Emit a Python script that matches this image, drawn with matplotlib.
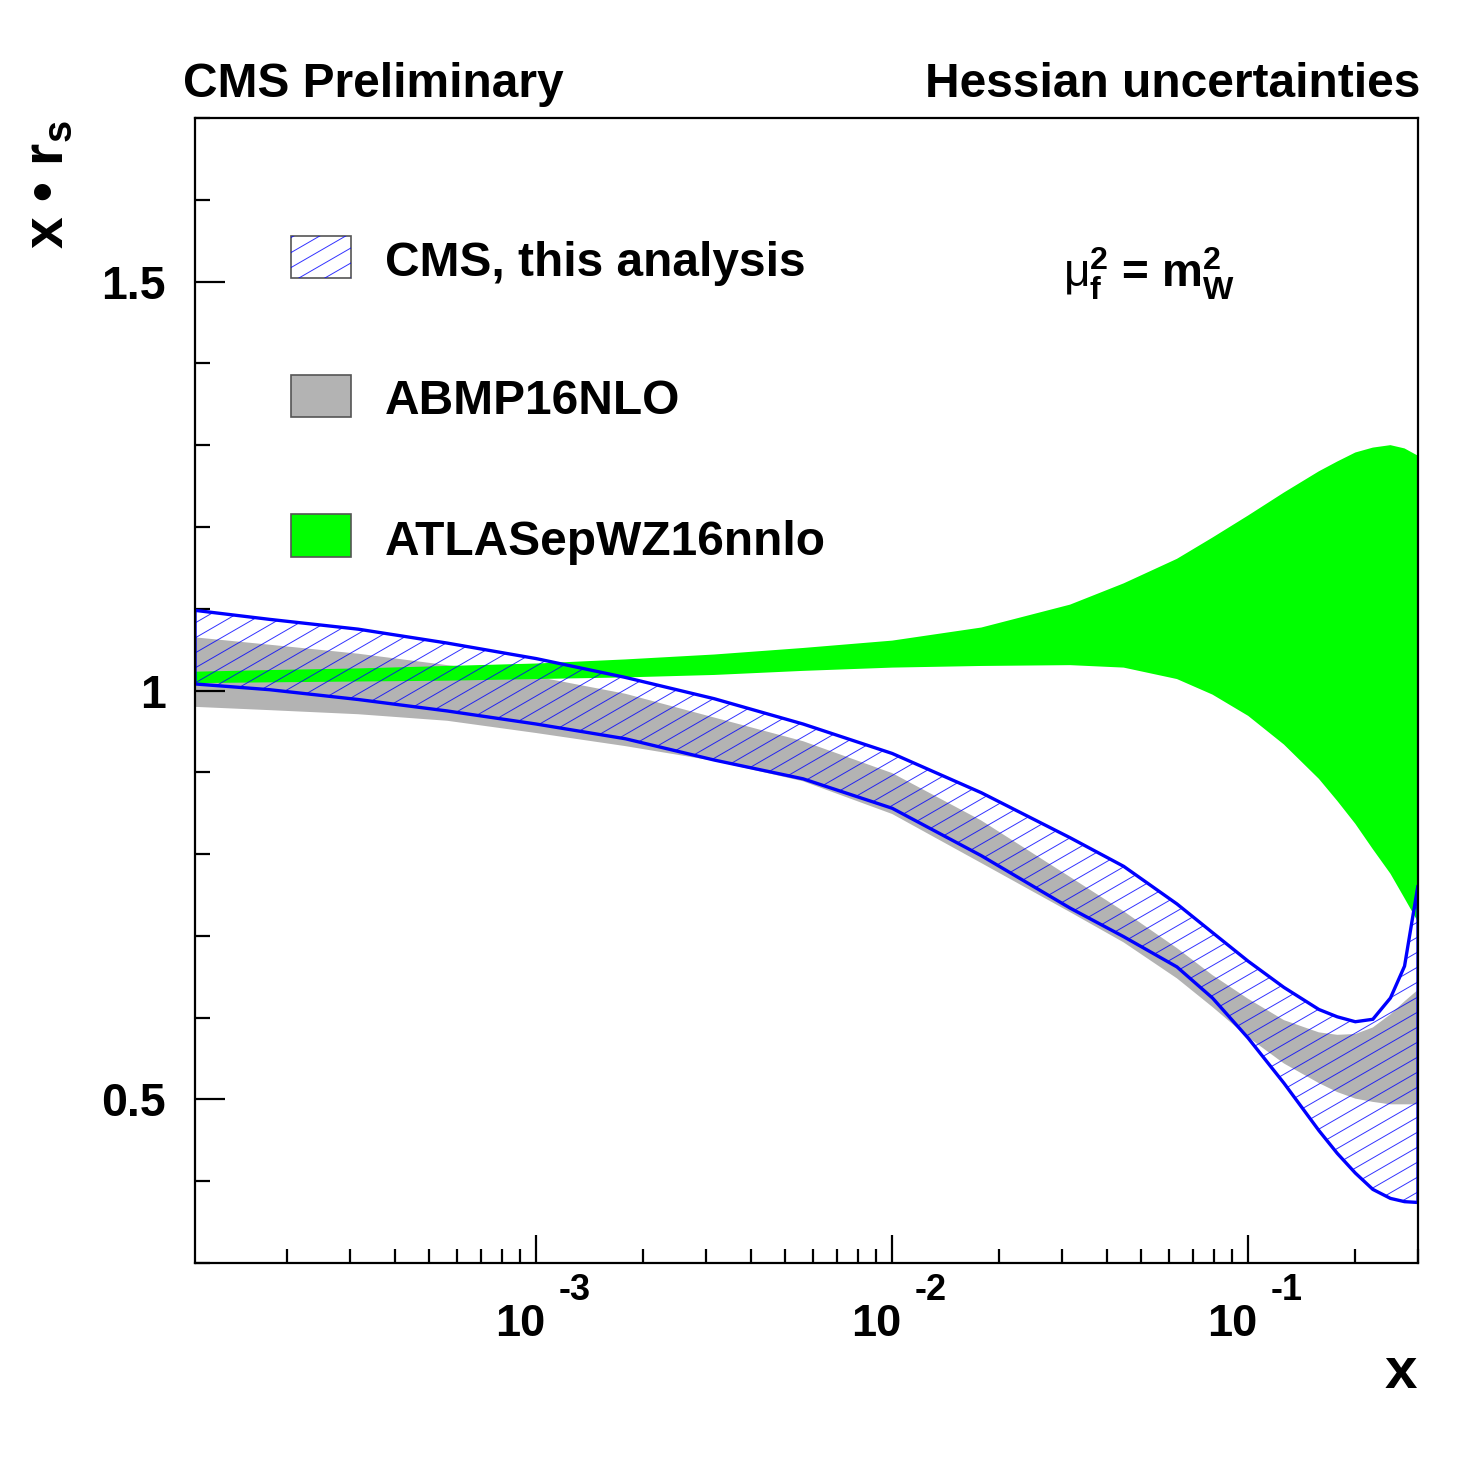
import numpy as np
import matplotlib
matplotlib.use('Agg')
import matplotlib.pyplot as plt
from matplotlib.collections import LineCollection
from matplotlib.patches import Rectangle
from matplotlib.ticker import LogLocator, NullFormatter, MultipleLocator, FixedLocator

# fonts (ROOT-like bold Helvetica look)
plt.rcParams['font.family'] = ['Liberation Sans', 'DejaVu Sans']
plt.rcParams['font.weight'] = 'bold'
plt.rcParams['mathtext.fontset'] = 'custom'
plt.rcParams['mathtext.rm'] = 'Liberation Sans:regular'
plt.rcParams['mathtext.it'] = 'Liberation Sans:bold'
plt.rcParams['mathtext.bf'] = 'Liberation Sans:bold'
plt.rcParams['mathtext.sf'] = 'Liberation Sans:bold'
plt.rcParams['mathtext.default'] = 'bf'

# data: x grid and band edges of x*r_s
x = [1.1e-4, 1.78e-4, 3.16e-4, 5.62e-4, 1e-3, 1.78e-3, 3.16e-3, 5.62e-3,
     0.01, 0.0178, 0.0316, 0.0447, 0.0631, 0.0794, 0.1, 0.126, 0.158,
     0.178, 0.2, 0.224, 0.251, 0.275, 0.3]

cms_hi = [1.098, 1.087, 1.075, 1.058, 1.039, 1.016, 0.990, 0.959,
          0.923, 0.875, 0.820, 0.785, 0.739, 0.704, 0.669, 0.637, 0.610,
          0.601, 0.595, 0.598, 0.624, 0.663, 0.762]
cms_lo = [1.008, 1.001, 0.989, 0.975, 0.959, 0.941, 0.915, 0.892,
          0.856, 0.798, 0.734, 0.699, 0.662, 0.624, 0.575, 0.520, 0.462,
          0.434, 0.410, 0.390, 0.379, 0.375, 0.374]

abmp_hi = [1.065, 1.056, 1.045, 1.031, 1.017, 0.996, 0.967, 0.938,
           0.899, 0.841, 0.772, 0.730, 0.685, 0.652, 0.623, 0.597, 0.582,
           0.579, 0.580, 0.588, 0.604, 0.620, 0.634]
abmp_lo = [0.980, 0.976, 0.971, 0.963, 0.948, 0.932, 0.914, 0.889,
           0.849, 0.789, 0.729, 0.692, 0.648, 0.613, 0.576, 0.544, 0.520,
           0.509, 0.501, 0.497, 0.494, 0.494, 0.494]

atlas_hi = [1.023, 1.025, 1.027, 1.030, 1.033, 1.038, 1.044, 1.052,
            1.061, 1.077, 1.105, 1.131, 1.161, 1.187, 1.214, 1.242, 1.268,
            1.280, 1.291, 1.297, 1.300, 1.296, 1.287]
atlas_lo = [1.009, 1.010, 1.011, 1.012, 1.014, 1.016, 1.019, 1.024,
            1.028, 1.030, 1.031, 1.028, 1.014, 0.995, 0.969, 0.934, 0.892,
            0.865, 0.837, 0.806, 0.776, 0.746, 0.717]

xtick_vals = [1e-3, 1e-2, 1e-1]
xtick_exps = ['-3', '-2', '-1']
labels = ['CMS, this analysis', 'ABMP16NLO', 'ATLASepWZ16nnlo']
gray = '#b3b3b3'
green = '#00ff00'
blue = '#0000ff'

W = H = 1478
fig = plt.figure(figsize=(14.78, 14.78), dpi=100)
ax = fig.add_axes([195 / W, 1 - 1263 / H, 1223 / W, 1145 / H])


def hatch_lines(slope, step):
    # diagonal lines in axes coordinates, ~30 deg on screen
    segs = []
    for y0 in np.arange(-1.0, 1.0 + step, step):
        segs.append([(0, y0), (1, y0 + slope)])
    return segs


slope_ax = np.tan(np.radians(30)) * 1223 / 1145
step_ax = 15 / 1145

# bands
ax.fill_between(x, abmp_lo, abmp_hi, facecolor=gray, edgecolor='none', zorder=1)
ax.fill_between(x, atlas_lo, atlas_hi, facecolor=green, edgecolor='none', zorder=2)
poly = ax.fill(np.r_[x, x[::-1]], np.r_[cms_hi, cms_lo[::-1]],
               facecolor='none', edgecolor=blue, lw=2.4, zorder=4)[0]
lc = LineCollection(hatch_lines(slope_ax, step_ax), colors=blue, linewidths=0.7,
                    alpha=0.8, transform=ax.transAxes, zorder=3)
ax.add_collection(lc, autolim=False)
lc.set_clip_path(poly.get_path(), poly.get_transform())

ax.set_xscale('log')
ax.set_xlim(1.1e-4, 0.3)
ax.set_ylim(0.3, 1.7)

# ticks
ax.xaxis.set_major_locator(FixedLocator(xtick_vals))
ax.xaxis.set_major_formatter(NullFormatter())
ax.xaxis.set_minor_locator(LogLocator(base=10, subs=np.arange(2, 10), numticks=20))
ax.xaxis.set_minor_formatter(NullFormatter())
ax.set_yticks([0.5, 1.0, 1.5])
ax.set_yticklabels(['0.5', '1', '1.5'])
ax.yaxis.set_minor_locator(MultipleLocator(0.1))
ax.tick_params(which='both', direction='in', top=False, right=False, width=1.6,
               labelsize=33.5, zorder=5)
ax.tick_params(axis='x', which='major', length=20)
ax.tick_params(axis='x', which='minor', length=10)
ax.tick_params(axis='y', which='major', length=21.6)
ax.tick_params(axis='y', which='minor', length=10.8)
ax.tick_params(axis='y', pad=21)
for s in ax.spines.values():
    s.set_linewidth(1.6)
    s.set_zorder(6)
for lab in ax.get_yticklabels():
    lab.set_fontweight('bold')

# ROOT style "10" + raised exponent labels
for v, e in zip(xtick_vals, xtick_exps):
    ax.annotate('10', xy=(v, 0), xycoords=('data', 'axes fraction'),
                xytext=(-11.5, -52.5), textcoords='offset points',
                fontsize=32.5, fontweight='bold', ha='center', va='baseline')
    ax.annotate(e, xy=(v, 0), xycoords=('data', 'axes fraction'),
                xytext=(16, -27), textcoords='offset points',
                fontsize=26, fontweight='bold', ha='left', va='baseline')

# legend drawn by hand
def ax_x(px):
    return (px - 195) / 1223


def ax_y(py):
    return (1263 - py) / 1145


bw = ax_x(351) - ax_x(291)
boxes = [(236, 278), (375, 417), (514, 557)]
faces = ['white', gray, green]
for (top, bot), fc in zip(boxes, faces):
    r = Rectangle((ax_x(291), ax_y(bot)), bw, ax_y(top) - ax_y(bot),
                  transform=ax.transAxes, facecolor=fc, edgecolor='#555555',
                  lw=1.2, zorder=7)
    ax.add_patch(r)
    if fc == 'white':
        hl = LineCollection(hatch_lines(slope_ax, step_ax), colors=blue,
                            linewidths=0.7, alpha=0.8, transform=ax.transAxes, zorder=8)
        ax.add_collection(hl, autolim=False)
        hl.set_clip_path(r.get_path(), r.get_transform())

for lab, base in zip(labels, [276, 414, 555]):
    ax.text(ax_x(385), ax_y(base), lab, transform=ax.transAxes, fontsize=34.5,
            fontweight='bold', ha='left', va='baseline')

ax.text(ax_x(1063), ax_y(287), r'$\mathrm{\mu}_{f}^{2}$ = $m_{W}^{2}$',
        transform=ax.transAxes, fontsize=33, ha='left', va='baseline')

# titles
fig.text(183 / W, 1 - 97 / H, 'CMS Preliminary', fontsize=34.5, fontweight='bold',
         ha='left', va='baseline')
fig.text(1420 / W, 1 - 97 / H, 'Hessian uncertainties', fontsize=34.5,
         fontweight='bold', ha='right', va='baseline')
fig.text(1417 / W, 1 - 1388 / H, 'x', fontsize=42, fontweight='bold',
         ha='right', va='baseline')
fig.text(63 / W, 1 - 120 / H, 'x \u2022 r$_{s}$', fontsize=41, fontweight='bold',
         rotation=90, rotation_mode='anchor', ha='right', va='baseline')

fig.savefig('out.png', dpi=100, facecolor='white')
